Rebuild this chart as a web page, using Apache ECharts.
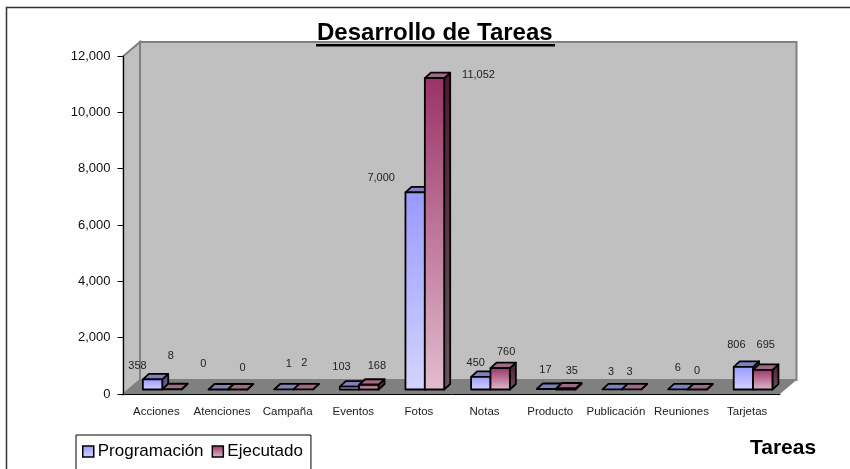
<!DOCTYPE html>
<html>
<head>
<meta charset="utf-8">
<title>Desarrollo de Tareas</title>
<style>
  html, body { margin: 0; padding: 0; background: #fff; }
  #chart { width: 850px; height: 469px; }
</style>
<script src="https://cdn.jsdelivr.net/npm/echarts@6/dist/echarts.min.js"></script>
</head>
<body>
<div id="chart"></div>
<script>
// datos de la grafica
const categories = ["Acciones", "Atenciones", "Campaña", "Eventos", "Fotos", "Notas", "Producto", "Publicación", "Reuniones", "Tarjetas"];
const programacion = [358, 0, 1, 103, 7000, 450, 17, 3, 6, 806];
const ejecutado = [8, 0, 2, 168, 11052, 760, 35, 3, 0, 695];
const yTicks = [0, 12000, 2000]; // min, max, interval

// las etiquetas del original van sueltas, cada una con su desplazamiento [dx, dy]
const nudgeProg = [[-15, -13], [-15, -26], [5, -26], [-8, -20], [-34, -14], [-5, -14], [-1, -19], [-1, -17], [0, -21], [-7, -22]];
const nudgeEjec = [[-1, -33], [5, -22], [1, -26], [8, -19], [44, -3], [6, -16], [6, -18], [-2, -17], [0, -19], [3, -25]];

const FONT = '"Liberation Sans", Arial, sans-serif';
const DEPTH_X = 6, DEPTH_Y = 5.5;   // profundidad de cada barra
const WALL_X = 16.5, WALL_Y = 14;   // profundidad de la caja 3D
const FLOOR_LIFT = 4.5;             // las barras se apoyan un poco dentro del piso

function vGrad(top, bottom) {
  return new echarts.graphic.LinearGradient(0, 0, 0, 1, [
    { offset: 0, color: top },
    { offset: 1, color: bottom },
  ]);
}

const looks = [
  { front: ["#9999FF", "#D4D4FF"], top: "#8080C0", side: ["#4D4D80", "#6A6A90"], nudge: nudgeProg },
  { front: ["#993366", "#E3BCCF"], top: "#A06A85", side: ["#4D1A33", "#6A5560"], nudge: nudgeEjec },
];

function poly(points, fill) {
  return {
    type: "polygon",
    shape: { points: points },
    style: { fill: fill, stroke: "#000", lineWidth: 1.8, lineJoin: "round" },
  };
}

function makeBar(k) {
  return function (params, api) {
    const look = looks[k];
    const idx = api.value(0);
    const val = api.value(1);
    const band = api.size([1, 0])[0];
    const p = api.coord([idx, val]);
    const base = api.coord([idx, 0]);
    const w = band * 0.295;
    const x0 = p[0] - band / 2 + band * 0.295 + k * w;
    const x1 = x0 + w;
    const yb = base[1] - FLOOR_LIFT;
    const yt = p[1] - FLOOR_LIFT;
    const n = look.nudge[idx];
    const children = [
      poly([[x1, yt], [x1 + DEPTH_X, yt - DEPTH_Y], [x1 + DEPTH_X, yb - DEPTH_Y], [x1, yb]], vGrad(look.side[0], look.side[1])),
      poly([[x0, yt], [x0 + DEPTH_X, yt - DEPTH_Y], [x1 + DEPTH_X, yt - DEPTH_Y], [x1, yt]], look.top),
    ];
    if (yb - yt > 0.5) {
      children.push(poly([[x0, yt], [x1, yt], [x1, yb], [x0, yb]], vGrad(look.front[0], look.front[1])));
    }
    children.push({
      type: "text",
      z2: 10,
      style: {
        text: val.toLocaleString("en-US"),
        x: (x0 + x1) / 2 + n[0],
        y: yt + n[1],
        align: "center",
        verticalAlign: "middle",
        font: "11px " + FONT,
        fill: "#222",
      },
    });
    return { type: "group", children: children };
  };
}

// paredes y piso de la caja 3D, a partir del rectangulo del grid
function renderWalls(params) {
  const g = params.coordSys;
  const l = g.x, r = g.x + g.width, t = g.y, b = g.y + g.height;
  const backStyle = { fill: "#C0C0C0", stroke: "#808080", lineWidth: 2 };
  return {
    type: "group",
    children: [
      { type: "polygon", shape: { points: [[l, t], [l + WALL_X, t - WALL_Y], [l + WALL_X, b - WALL_Y], [l, b]] }, style: backStyle },
      { type: "polygon", shape: { points: [[l + WALL_X, t - WALL_Y], [r + WALL_X, t - WALL_Y], [r + WALL_X, b - WALL_Y], [l + WALL_X, b - WALL_Y]] }, style: backStyle },
      { type: "polygon", shape: { points: [[l, b], [l + WALL_X, b - WALL_Y], [r + WALL_X, b - WALL_Y], [r, b]] }, style: { fill: "#808080" } },
    ],
  };
}

function pairs(values) {
  return values.map(function (v, i) { return [i, v]; });
}

const myChart = echarts.init(document.getElementById("chart"));

myChart.setOption({
  animation: false,
  title: [
    {
      text: "Desarrollo de Tareas",
      left: 312,
      top: 16,
      textStyle: { fontFamily: FONT, fontSize: 24, fontWeight: "bold", color: "#000" },
    },
    {
      text: "Tareas",
      left: 745,
      top: 433,
      textStyle: { fontFamily: FONT, fontSize: 21, fontWeight: "bold", color: "#000" },
    },
  ],
  legend: {
    left: 76,
    top: 435,
    orient: "horizontal",
    backgroundColor: "#fff",
    borderColor: "#000",
    borderWidth: 1,
    padding: [8, 8, 12, 6],
    itemWidth: 11,
    itemHeight: 11,
    itemGap: 8,
    icon: "rect",
    textStyle: { fontFamily: FONT, fontSize: 17, color: "#000", padding: [0, 0, 0, -1] },
    data: [
      { name: "Programación", itemStyle: { color: vGrad("#9999FF", "#D4D4FF"), borderColor: "#000", borderWidth: 1.5 } },
      { name: "Ejecutado", itemStyle: { color: vGrad("#993366", "#E3BCCF"), borderColor: "#000", borderWidth: 1.5 } },
    ],
  },
  grid: { left: 123.5, right: 70, top: 56, bottom: 75 },
  xAxis: {
    type: "category",
    data: categories,
    z: 3,
    axisLine: { lineStyle: { color: "#000", width: 1 } },
    axisTick: { alignWithLabel: false, length: 6, lineStyle: { color: "#000" } },
    axisLabel: { interval: 0, margin: 12, fontFamily: FONT, fontSize: 11.5, color: "#222" },
  },
  yAxis: {
    type: "value",
    min: yTicks[0],
    max: yTicks[1],
    interval: yTicks[2],
    z: 3,
    splitLine: { show: false },
    axisLine: { show: true, lineStyle: { color: "#000", width: 1 } },
    axisTick: { show: true, length: 6, lineStyle: { color: "#000" } },
    axisLabel: {
      margin: 13,
      fontFamily: FONT,
      fontSize: 13,
      color: "#111",
      formatter: function (v) { return v.toLocaleString("en-US"); },
    },
  },
  // sin clip para que las caras 3D puedan salir del grid
  series: [
    { name: "caja", type: "custom", z: 1, silent: true, clip: false, renderItem: renderWalls, data: [0] },
    { name: "Programación", type: "custom", z: 4, clip: false, renderItem: makeBar(0), encode: { x: 0, y: 1 }, data: pairs(programacion) },
    { name: "Ejecutado", type: "custom", z: 4, clip: false, renderItem: makeBar(1), encode: { x: 0, y: 1 }, data: pairs(ejecutado) },
  ],
  // marco exterior (solo arriba y a la izquierda) y subrayado del titulo
  graphic: [
    { type: "polyline", silent: true, z: 0, shape: { points: [[6.5, 469], [6.5, 7.5], [850, 7.5]] }, style: { stroke: "#333", lineWidth: 1.5, fill: null } },
    { type: "rect", silent: true, z: 6, shape: { x: 316, y: 44, width: 239, height: 2.5 }, style: { fill: "#000" } },
  ],
});
</script>
</body>
</html>
